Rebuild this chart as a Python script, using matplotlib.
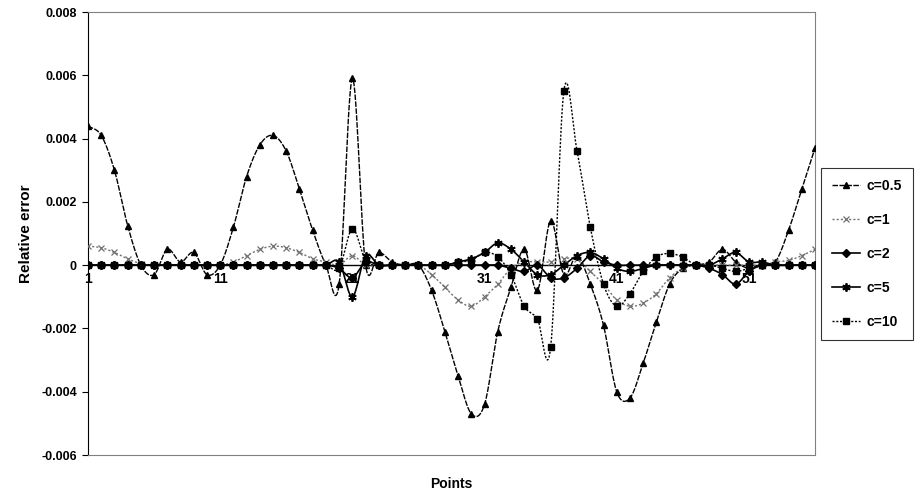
import numpy as np
import matplotlib
matplotlib.use("Agg")
import matplotlib.pyplot as plt

plt.rcParams["font.family"] = ["Liberation Sans", "DejaVu Sans"]
plt.rcParams["font.weight"] = "bold"

# relative error at each of the 56 sample points, one list per shape parameter
points = list(range(1, 57))
c_05 = [0.0044, 0.0041, 0.0030, 0.00125, 0.0, -0.0003, 0.0005, 0.0001, 0.0004, -0.0003,
        0.0, 0.0012, 0.0028, 0.0038, 0.0041, 0.0036, 0.0024, 0.0011, 0.0, -0.0006,
        0.0059, 0.0, 0.0004, 0.0001, 0.0, 0.0, -0.0008, -0.0021, -0.0035, -0.0047,
        -0.0044, -0.0021, -0.0007, 0.0005, -0.0008, 0.0014, -0.0003, 0.0003, -0.0006, -0.0019,
        -0.0040, -0.0042, -0.0031, -0.0018, -0.0006, -0.0001, 0.0, 0.0001, 0.0005, 0.0001,
        -0.0001, 0.0, 0.0001, 0.0011, 0.0024, 0.0037]
c_1 = [0.0006, 0.00055, 0.0004, 0.0002, 0.00005, 0.0, 0.0, 0.0, 0.0, 0.0,
       0.0, 0.0001, 0.0003, 0.0005, 0.0006, 0.00055, 0.0004, 0.0002, 0.0001, 0.0,
       0.0003, 0.0, 0.0, 0.0, 0.0, 0.0, -0.0003, -0.0007, -0.0011, -0.0013,
       -0.0010, -0.0006, -0.0001, 0.0001, 0.0001, 0.0001, 0.0002, 0.0002, -0.0002, -0.0006,
       -0.0011, -0.0013, -0.0012, -0.0009, -0.0004, -0.0001, 0.0, 0.0, 0.0, 0.0,
       0.0, 0.0, 0.0001, 0.00015, 0.0003, 0.0005]
c_2 = [0.0, 0.0, 0.0, 0.0, 0.0, 0.0, 0.0, 0.0, 0.0, 0.0,
       0.0, 0.0, 0.0, 0.0, 0.0, 0.0, 0.0, 0.0, 0.0, -0.0001,
       -0.0004, 0.0001, 0.0, 0.0, 0.0, 0.0, 0.0, 0.0, 0.0, 0.0,
       0.0, 0.0, -0.0001, -0.0002, 0.0, -0.0004, -0.0004, -0.0001, 0.0003, 0.0001,
       0.0, 0.0, 0.0, 0.0, 0.0, 0.0, 0.0, -0.0001, -0.0003, -0.0006,
       -0.0002, 0.0, 0.0, 0.0, 0.0, 0.0]
c_5 = [0.0, 0.0, 0.0, 0.0, 0.0, 0.0, 0.0, 0.0, 0.0, 0.0,
       0.0, 0.0, 0.0, 0.0, 0.0, 0.0, 0.0, 0.0, 0.0, 0.0001,
       -0.0010, 0.0003, 0.0, 0.0, 0.0, 0.0, 0.0, 0.0, 0.0001, 0.0002,
       0.0004, 0.0007, 0.0005, 0.0001, -0.0003, -0.0003, 0.0, 0.0003, 0.0004, 0.0002,
       -0.0001, -0.0002, -0.0001, 0.0, 0.0, 0.0, 0.0, 0.0, 0.0002, 0.0004,
       0.0001, 0.0001, 0.0, 0.0, 0.0, 0.0]
c_10 = [0.0, 0.0, 0.0, 0.0, 0.0, 0.0, 0.0, 0.0, 0.0, 0.0,
        0.0, 0.0, 0.0, 0.0, 0.0, 0.0, 0.0, 0.0, 0.0, -0.0001,
        0.00115, 0.00015, 0.0, 0.0, 0.0, 0.0, 0.0, 0.0, 0.0001, 0.00015,
        0.0004, 0.00026, -0.0003, -0.0013, -0.0017, -0.0026, 0.0055, 0.0036, 0.0012, -0.0006,
        -0.0013, -0.0009, -0.0002, 0.00026, 0.00037, 0.00025, 0.0, 0.0, -0.0001, -0.0002,
        -0.0001, 0.0, 0.0, 0.0, 0.0, 0.0]
labels = ["c=0.5", "c=1", "c=2", "c=5", "c=10"]
category_ticks = [1, 11, 21, 31, 41, 51]


def smooth(x, y, n=16):
    """Catmull-Rom curve through the points, like a spreadsheet 'smoothed line'."""
    x = np.asarray(x, float)
    y = np.asarray(y, float)
    px = np.concatenate([[2 * x[0] - x[1]], x, [2 * x[-1] - x[-2]]])
    py = np.concatenate([[2 * y[0] - y[1]], y, [2 * y[-1] - y[-2]]])
    t = np.linspace(0, 1, n, endpoint=False)
    xs, ys = [], []
    for i in range(1, len(px) - 2):
        for p, out in ((px, xs), (py, ys)):
            p0, p1, p2, p3 = p[i - 1], p[i], p[i + 1], p[i + 2]
            out.append(0.5 * (2 * p1 + (-p0 + p2) * t
                              + (2 * p0 - 5 * p1 + 4 * p2 - p3) * t ** 2
                              + (-p0 + 3 * p1 - 3 * p2 + p3) * t ** 3))
    xs.append([x[-1]])
    ys.append([y[-1]])
    return np.concatenate(xs), np.concatenate(ys)


styles = [
    dict(color="black", ls=(0, (4, 1)), lw=1.0, marker="^", ms=5),
    dict(color="#707070", ls=(0, (1.5, 1.5)), lw=1.0, marker="x", ms=5, mew=0.9),
    dict(color="black", ls="-", lw=1.2, marker="D", ms=3.6),
    dict(color="black", ls="-", lw=1.2, marker=(6, 2, 0), ms=6, mew=1.3),
    dict(color="black", ls=(0, (1.5, 1.2)), lw=1.0, marker="s", ms=4.3),
]

fig = plt.figure(figsize=(9.22, 4.98), dpi=100)
ax = fig.add_axes([88 / 922, 1 - 455 / 498, (815 - 88) / 922, (455 - 12) / 498])

handles = []
for series, label, st in zip([c_05, c_1, c_2, c_5, c_10], labels, styles):
    sx, sy = smooth(points, series)
    ax.plot(sx, sy, color=st["color"], ls=st["ls"], lw=st["lw"], zorder=2)
    ax.plot(points, series, ls="none", marker=st["marker"], ms=st["ms"],
            mew=st.get("mew", 1.0), color=st["color"], mfc=st["color"],
            mec=st["color"], zorder=3)
    h, = ax.plot([], [], color=st["color"], ls=st["ls"], lw=st["lw"],
                 marker=st["marker"], ms=st["ms"], mew=st.get("mew", 1.0))
    handles.append(h)

ax.axhline(0, color="black", lw=1.0, zorder=1)

ax.set_xlim(points[0], points[-1])
ax.set_ylim(-0.006, 0.008)
ax.set_yticks(np.arange(-0.006, 0.0081, 0.002))
ax.set_yticklabels(["-0.006", "-0.004", "-0.002", "0", "0.002", "0.004", "0.006", "0.008"])
ax.tick_params(axis="y", direction="out", length=4, width=0.8, labelsize=9, pad=4)
ax.set_xticks([])

for t in category_ticks:
    ax.text(t, -0.00022, str(t), ha="center", va="top", fontsize=10,
            fontweight="bold", zorder=4)

for side in ["top", "right", "bottom"]:
    ax.spines[side].set_color("#808080")
    ax.spines[side].set_linewidth(0.8)
ax.spines["left"].set_color("black")
ax.spines["left"].set_linewidth(0.8)

ax.set_ylabel("Relative error", fontsize=11, fontweight="bold", labelpad=6)
ax.set_xlabel("Points", fontsize=10, fontweight="bold", labelpad=16)

leg = fig.legend(handles, labels, loc="center left", bbox_to_anchor=(821 / 922, 1 - 254 / 498),
                 fontsize=10, frameon=True, fancybox=False, edgecolor="black",
                 handlelength=2.0, labelspacing=1.45, borderpad=0.8, handletextpad=0.5,
                 borderaxespad=0)
leg.get_frame().set_linewidth(0.8)

fig.savefig("out.png", dpi=100)
